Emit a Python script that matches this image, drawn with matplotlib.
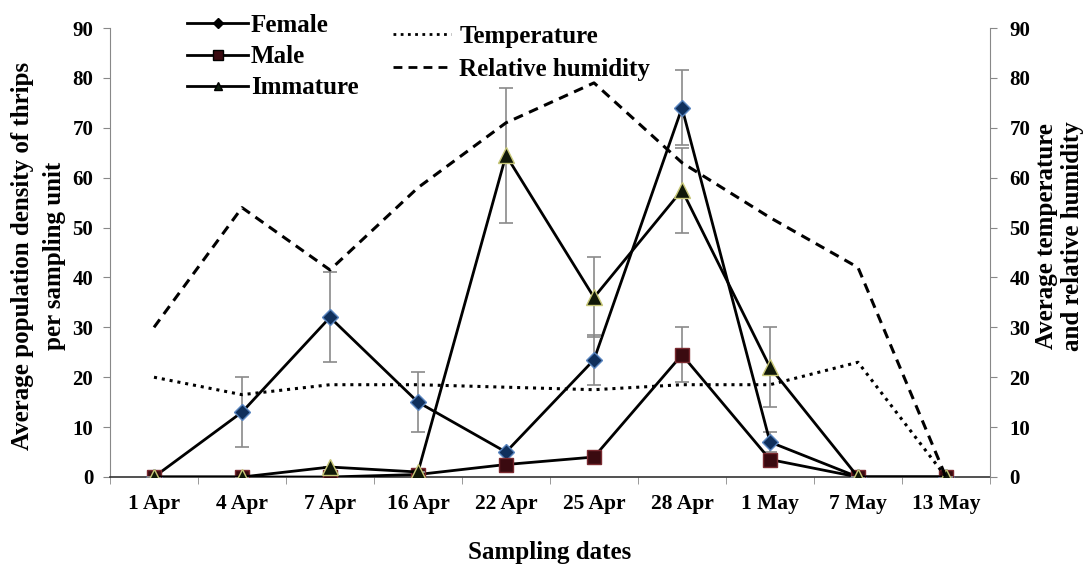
import numpy as np
import matplotlib
matplotlib.use("Agg")
import matplotlib.pyplot as plt
from matplotlib.lines import Line2D

dates = ["1 Apr", "4 Apr", "7 Apr", "16 Apr", "22 Apr", "25 Apr", "28 Apr", "1 May", "7 May", "13 May"]
female = [0, 13, 32, 15, 5, 23.5, 74, 7, 0, 0]
female_err = [0, 7, 9, 6, 0, 5, 7.5, 2, 0, 0]
male = [0, 0, 0, 0.5, 2.5, 4, 24.5, 3.5, 0, 0]
male_err = [0, 0, 0, 0, 0, 0, 5.5, 0, 0, 0]
immature = [0, 0, 2, 1, 64.5, 36, 57.5, 22, 0, 0]
immature_err = [0, 0, 0, 0, 13.5, 8, 8.5, 8, 0, 0]
temperature = [20, 16.5, 18.5, 18.5, 18, 17.5, 18.5, 18.5, 23, 0]
humidity = [30, 54, 41.5, 58, 71, 79, 63, 52, 42, 0]

plt.rcParams["font.family"] = ["Liberation Serif", "DejaVu Serif"]
plt.rcParams["font.weight"] = "bold"

W, H = 1090, 567
fig = plt.figure(figsize=(W / 100, H / 100), dpi=100)
ax = fig.add_axes([110 / W, 1 - 477 / H, 880 / W, 449 / H])
ax2 = ax.twinx()
x = np.arange(len(dates))

temp_style = (0, (1, 1.6))
rh_style = (0, (3.2, 2.2))

# weather on the secondary axis
ax2.plot(x, temperature, color="black", linestyle=temp_style, lw=2.2)
ax2.plot(x, humidity, color="black", linestyle=rh_style, lw=2.2)

# thrips counts
ecol = "#8a8a8a"
eb = dict(color="black", lw=2, ecolor=ecol, elinewidth=1.2, capsize=5, capthick=1.2)
ax.errorbar(x, female, yerr=female_err, marker="D", ms=8, mfc="#10305c", mec="#5a86c0", zorder=3, **eb)
ax.errorbar(x, male, yerr=male_err, marker="s", ms=9.5, mfc="#3a0a10", mec="#7a2a30", zorder=3, **eb)
ax.errorbar(x, immature, yerr=immature_err, marker="^", ms=11.5, mfc="#101808", mec="#c8c878", zorder=4, **eb)

for a in (ax, ax2):
    a.set_ylim(0, 90)
    a.set_yticks(range(0, 91, 10))
    a.set_xlim(-0.5, len(dates) - 0.5)
    a.spines["top"].set_visible(False)
    a.tick_params(axis="y", labelsize=15, length=5, color="#888888", pad=7)
ax2.tick_params(axis="y", pad=9)
ax.spines["left"].set_color("#888888")
ax.spines["right"].set_visible(False)
ax2.spines["right"].set_color("#888888")
ax2.spines["left"].set_visible(False)
ax2.spines["bottom"].set_visible(False)
ax.spines["bottom"].set_color("#333333")
ax.spines["bottom"].set_linewidth(1.2)

ax.set_xticks(x)
ax.set_xticklabels(dates)
ax.set_xticks(np.arange(-0.5, len(dates), 1), minor=True)
ax.tick_params(axis="x", which="major", length=0, labelsize=15.5, pad=12)
ax.tick_params(axis="x", which="minor", length=5, color="#888888")

# axis titles
fig.text(23 / W, 1 - 256 / H, "Average population density of thrips", rotation=90, fontsize=18,
         fontweight="bold", ha="center", va="center")
fig.text(54 / W, 1 - 256 / H, "per sampling unit", rotation=90, fontsize=18,
         fontweight="bold", ha="center", va="center")
fig.text(1047 / W, 1 - 236 / H, "Average temperature", rotation=90, fontsize=18,
         fontweight="bold", ha="center", va="center")
fig.text(1072 / W, 1 - 236 / H, "and relative humidity", rotation=90, fontsize=18,
         fontweight="bold", ha="center", va="center")
fig.text(550 / W, 1 - 552 / H, "Sampling dates", fontsize=18, fontweight="bold", ha="center", va="center")

h1 = [Line2D([], [], color="black", lw=2, marker="D", ms=5, mfc="black"),
      Line2D([], [], color="black", lw=2, marker="s", ms=7, mfc="#3a0a10"),
      Line2D([], [], color="black", lw=2, marker="^", ms=6, mfc="#102010")]
fig.legend(h1, ["Female", "Male", "Immature"], loc="upper left", bbox_to_anchor=(187 / W, 1 - 14 / H),
           frameon=False, fontsize=18, handlelength=2.45, handletextpad=0.1, labelspacing=0.33,
           borderpad=0, borderaxespad=0)
h2 = [Line2D([], [], color="black", lw=2, linestyle=temp_style),
      Line2D([], [], color="black", lw=2, linestyle=rh_style)]
fig.legend(h2, ["Temperature", "Relative humidity"], loc="upper left", bbox_to_anchor=(393 / W, 1 - 25 / H),
           frameon=False, fontsize=18, handlelength=2.3, handletextpad=0.35, labelspacing=0.4,
           borderpad=0, borderaxespad=0)

fig.savefig("out.png", dpi=100)
